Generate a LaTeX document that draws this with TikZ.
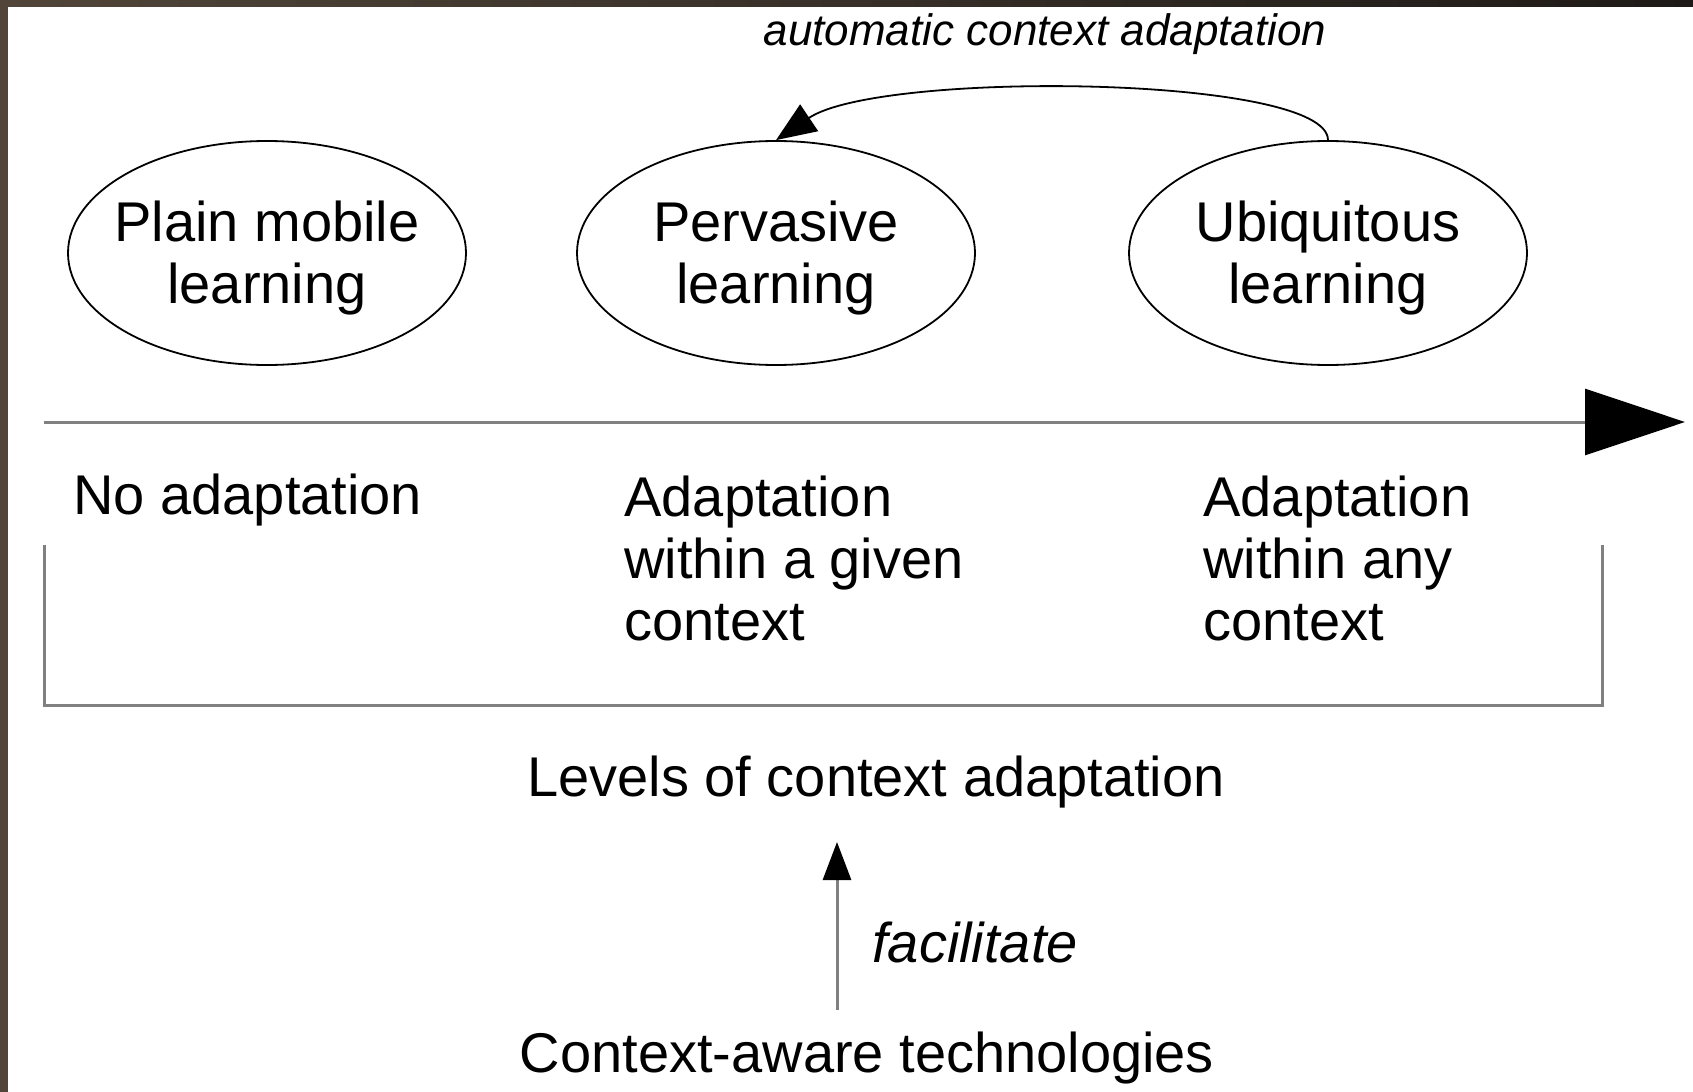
\documentclass[tikz,border=0pt]{standalone}
\usepackage{fontspec}
\setmainfont{Liberation Sans}
\usetikzlibrary{shapes.geometric,arrows.meta}
\definecolor{framebrown}{HTML}{514539}
\definecolor{framelight}{HTML}{6E5D4B}
\definecolor{framedark}{HTML}{1E1A17}
\definecolor{axisgray}{HTML}{808080}
\begin{document}
\begin{tikzpicture}[x=0.5pt,y=-0.5pt,
  oval/.style={ellipse, draw, line width=0.9pt, minimum width=199pt, minimum height=112pt, inner sep=0pt},
  txt/.style={font=\fontsize{28}{31}\selectfont, inner sep=0pt},
  itxt/.style={font=\fontsize{28}{31}\selectfont\itshape, inner sep=0pt},
  note/.style={font=\fontsize{22}{26}\selectfont\itshape, inner sep=0pt},
  gline/.style={draw=axisgray, line width=1.5pt},
]
% canvas and frame strips
\fill[white] (0,0) rectangle (1693,1092);
\useasboundingbox (0,0) rectangle (1693,1092);
\shade[left color=framebrown, middle color=framelight, right color=framedark] (0,0) rectangle (1693,6);
\fill[framebrown] (0,0) rectangle (8,1092);

% the three kinds of learning (base anchor = last line's baseline)
\node[oval] (plain) at (267,253) {};
\node[oval] (perv) at (776,253) {};
\node[oval] (ubi) at (1328,253) {};
\node[txt, anchor=base, align=center] (plaint) at (267,303) {Plain mobile\\learning};
\node[txt, anchor=base, align=center] (pervt) at (776,303) {Pervasive\\learning};
\node[txt, anchor=base, align=center] (ubit) at (1328,303) {Ubiquitous\\learning};

% automatic adaptation loop
\node[note, anchor=base] (auto) at (1045,46) {automatic context adaptation};
\draw[line width=0.9pt, -{Triangle[length=20pt,width=16pt]}]
  (ubi.north) .. controls +(0,-65) and +(104,-70) .. (perv.north);

% axis of adaptation
\coordinate (axs) at (44,422);
\coordinate (axe) at (1685,422);
\draw[gline, -{Triangle[length=50pt,width=33pt,color=black]}] (axs) -- (axe);

% level labels
\node[txt, anchor=base west] (none) at (73,514) {No adaptation};
\node[txt, anchor=base west, align=left] (given) at (624,640) {Adaptation\\within a given\\context};
\node[txt, anchor=base west, align=left] (any) at (1203,640) {Adaptation\\within any\\context};

% bracket grouping the levels
\coordinate (bl) at (44,545);
\coordinate (br) at (1602,545);
\draw[gline] (bl) -- (44,705) -- (1602,705) -- (br);

\node[txt, anchor=base] (levels) at (876,796) {Levels of context adaptation};
\node[txt, anchor=base] (tech) at (867,1072) {Context-aware technologies};
\coordinate (fx) at (837,900);
\draw[gline, -{Triangle[length=19pt,width=14pt,color=black]}, shorten <=10.5pt, shorten >=17pt]
  (tech.north -| fx) -- (levels.south -| fx);
\node[itxt, anchor=base west] (fac) at (872,962) {facilitate};
\end{tikzpicture}
\end{document}
